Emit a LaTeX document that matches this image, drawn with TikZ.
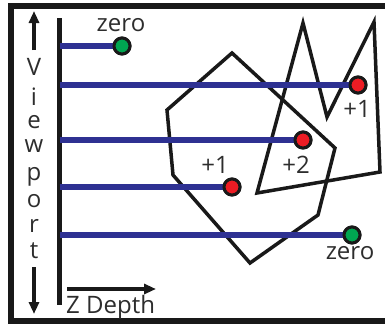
\documentclass[tikz,border=0pt]{standalone}
\usepackage{fontspec}
\setmainfont{Open Sans}
\usetikzlibrary{arrows.meta}
\definecolor{rayblue}{RGB}{46,49,146}
\definecolor{dotgreen}{RGB}{0,166,81}
\definecolor{dotred}{RGB}{237,28,36}
\definecolor{txt}{RGB}{45,45,45}
\tikzset{
  ray/.style={draw=rayblue,line width=5.5pt},
  poly/.style={draw=black!90,line width=3.5pt,line join=miter},
  dotbase/.style={circle,draw=black!90,line width=3pt,minimum size=16pt,inner sep=0pt},
  gdot/.style={dotbase,fill=dotgreen},
  rdot/.style={dotbase,fill=dotred},
  lbl/.style={font=\fontsize{24}{24}\selectfont,text=txt,inner sep=0pt,anchor=base},
  vp/.style={lbl},
  axarrow/.style={draw=black!90,line width=3.5pt,-{Triangle[length=12pt,width=10pt]}}
}
\begin{document}
\begin{tikzpicture}[x=1pt,y=-1pt]
\useasboundingbox (0,0) rectangle (385,324);
\clip (0,0) rectangle (385,324);
% frame
\draw[black!90,line width=6.5pt] (11,6) rectangle (400,321);
% polygons
\draw[poly] (232,53) -- (167,110) -- (173,175) -- (250,263) -- (318,215) -- (335,148) -- cycle;
\draw[poly] (257,193) -- (303,23) -- (327,117) -- (374,22) -- (380,172) -- cycle;
% vertical viewport line
\coordinate (vt) at (59.5,18);
\coordinate (vb) at (59.5,305);
\draw[black!90,line width=5.5pt] (vt) -- (vb);
% rays start points
\coordinate (s1) at (59.5,46);
\coordinate (s2) at (59.5,85);
\coordinate (s3) at (59.5,140);
\coordinate (s4) at (59.5,187);
\coordinate (s5) at (59.5,235);
% dots
\node[gdot] (d1) at (122,46) {};
\node[rdot] (d2) at (358,85) {};
\node[rdot] (d3) at (303,140) {};
\node[rdot] (d4) at (232,187) {};
\node[gdot] (d5) at (352,235) {};
\draw[ray] (s1) -- (d1.west);
\draw[ray] (s2) -- (d2.west);
\draw[ray] (s3) -- (d3.west);
\draw[ray] (s4) -- (d4.west);
\draw[ray] (s5) -- (d5.west);
% redraw dots on top
\node[gdot] at (d1) {};
\node[rdot] at (d2) {};
\node[rdot] at (d3) {};
\node[rdot] at (d4) {};
\node[gdot] at (d5) {};
% labels
\node[lbl] (l1) at (121,31) {zero};
\node[lbl] (l2) at (357,117) {+1};
\node[lbl] (l3) at (296,173) {+2};
\node[lbl] (l4) at (215,173) {+1};
\node[lbl] (l5) at (350,259) {zero};
% viewport letters
\node[vp] (v1) at (34,75) {V};
\node[vp] (v2) at (34,105) {i};
\node[vp] (v3) at (34,128) {e};
\node[vp] (v4) at (34,152) {w};
\node[vp] (v5) at (34,180) {p};
\node[vp] (v6) at (34,207) {o};
\node[vp] (v7) at (34,232) {r};
\node[vp] (v8) at (34,258) {t};
% arrows
\coordinate (ua) at (34,50);
\coordinate (ub) at (34,11);
\draw[axarrow] (ua) -- (ub);
\coordinate (da) at (34,267);
\coordinate (db) at (34,314);
\draw[axarrow] (da) -- (db);
\coordinate (za) at (67,289);
\coordinate (zb) at (156,289);
\draw[axarrow] (za) -- (zb);
\node[lbl,anchor=base west] (zd) at (66,313) {Z Depth};
\end{tikzpicture}
\end{document}
